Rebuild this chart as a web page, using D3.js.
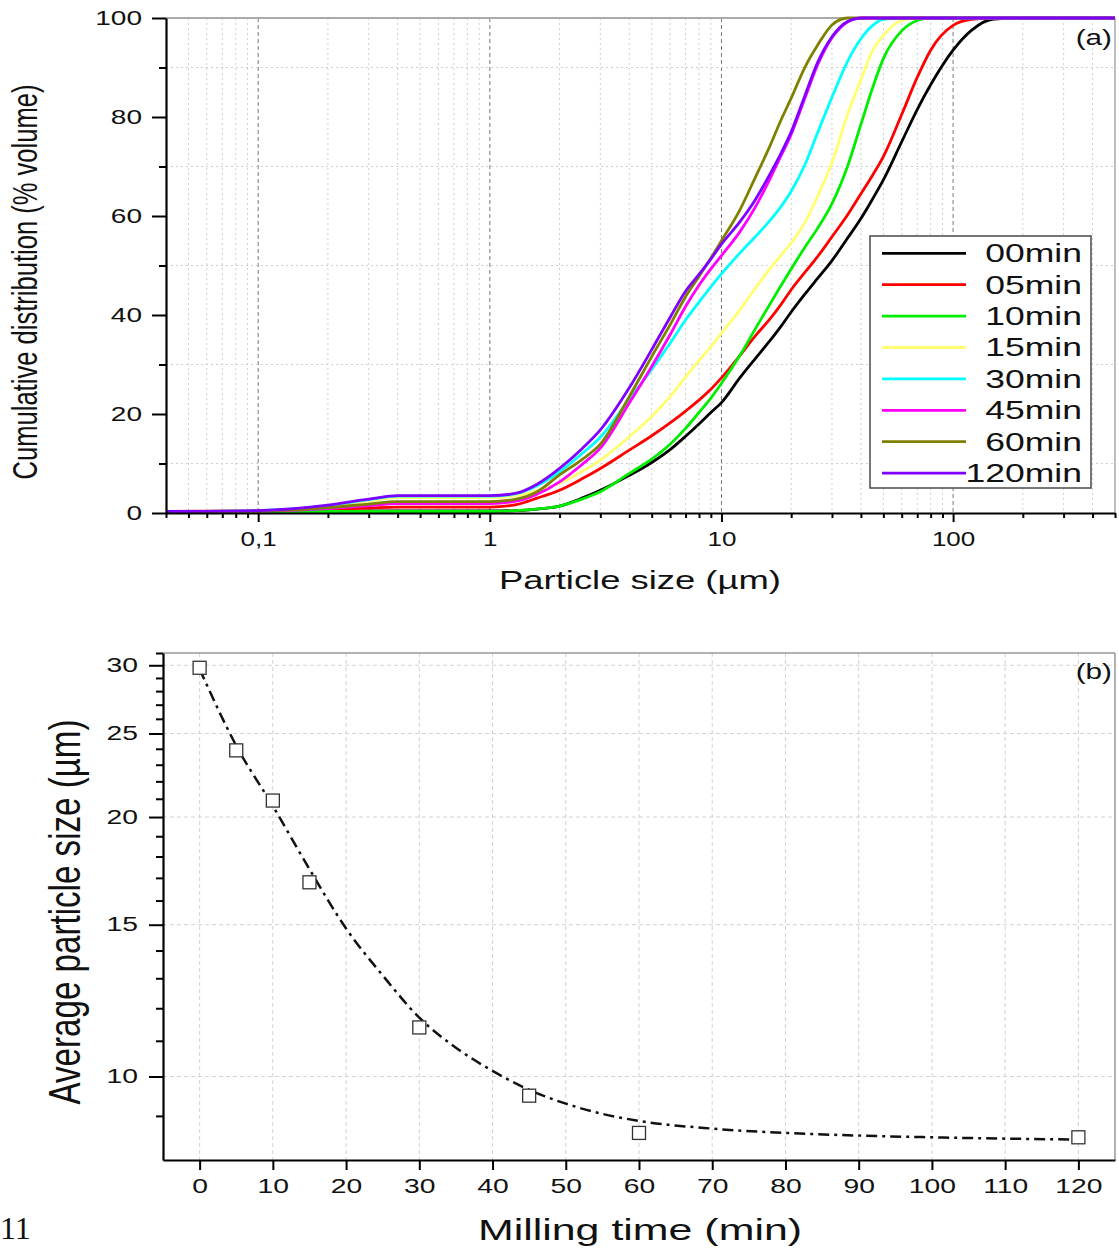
<!DOCTYPE html>
<html><head><meta charset="utf-8">
<script src="https://cdn.jsdelivr.net/npm/d3@7"></script>
<style>
body{margin:0;background:#fff}
svg{display:block}
text{font-family:"Liberation Sans",Arial,Helvetica,sans-serif;fill:#111}
</style>
</head><body>
<svg id="c" width="1119" height="1250"></svg>
<script>
// ---------- DATA: panel (a) ----------
const sizes = [0.04,0.1,0.2,0.3,0.4,1,1.3,1.6,2,2.5,3,4,5,6,7,8,9,10,12,14,16,18,20,23,26,30,35,40,45,50,60,70,80,100,120,150,200,500];
const seriesNames = ["00min","05min","10min","15min","30min","45min","60min","120min"];
const seriesColors = ["#000000","#ff0000","#00ee00","#ffff70","#00ffff","#ff00ff","#808000","#8000ff"];
const v00 = [0.2,0.3,0.35,0.4,0.4,0.4,0.5,0.8,1.4,3.0,4.6,7.6,10.2,12.8,15.5,18.0,20.3,22.3,27.3,31.2,34.5,37.6,40.6,44.3,47.4,51.0,55.5,59.5,63.5,67.3,75.0,81.5,86.5,93.5,97.5,99.8,100,100];
const v05 = [0.3,0.4,0.7,1.0,1.2,1.2,1.7,3.0,4.6,6.9,9.0,12.7,15.6,18.2,20.6,22.8,25.0,27.3,31.8,35.8,38.9,42.0,45.1,48.7,51.8,55.8,60.2,64.5,68.3,72.0,80.5,88.0,93.5,98.5,99.7,100,100,100];
const v10 = [0.2,0.3,0.3,0.3,0.3,0.3,0.5,0.8,1.4,2.8,4.3,8.0,10.9,13.9,17.1,20.3,23.2,26.2,31.8,37.2,41.8,45.8,49.3,53.8,57.5,62.5,70.0,78.5,86.0,91.8,97.4,99.5,100,100,100,100,100,100];
const v15 = [0.3,0.4,1.3,2.4,3.1,3.1,3.5,4.5,6.0,8.4,10.7,15.4,19.5,23.5,27.5,30.8,33.6,36.3,41.0,45.4,49.0,52.0,54.5,58.8,64.0,70.8,80.5,87.5,93.5,96.5,99.5,100,100,100,100,100,100,100];
const v30 = [0.3,0.5,1.5,2.7,3.4,3.4,3.9,5.5,8.3,12.0,15.3,23.0,29.0,34.3,39.0,42.6,45.7,48.3,52.5,55.8,58.8,61.8,65.0,70.5,76.8,84.0,91.2,95.8,98.5,99.7,100,100,100,100,100,100,100,100];
const v45 = [0.3,0.4,0.9,1.5,1.9,1.9,2.4,3.8,6.3,9.8,13.1,22.2,29.6,36.0,41.7,46.0,49.3,52.0,56.8,61.8,67.0,72.0,76.5,84.0,90.5,96.0,99.2,100,100,100,100,100,100,100,100,100,100,100];
const v60 = [0.3,0.4,1.1,1.8,2.3,2.3,2.8,4.3,7.7,10.8,13.9,23.5,31.6,38.0,43.7,47.8,51.5,55.0,61.2,67.8,73.6,79.2,83.8,90.2,94.5,98.6,100,100,100,100,100,100,100,100,100,100,100,100];
const v120 = [0.3,0.5,1.6,2.8,3.5,3.5,4.0,5.8,9.0,13.0,16.8,25.3,33.0,39.5,44.8,48.2,51.3,54.3,58.8,63.3,68.0,72.5,77.0,84.5,91.0,96.2,99.3,100,100,100,100,100,100,100,100,100,100,100];
const seriesValues = [v00,v05,v10,v15,v30,v45,v60,v120];
const xMajorA = [0.1,1,10,100];
const xMajorLabelsA = ["0,1","1","10","100"];
const yMajorA = [0,20,40,60,80,100];
const yMinorA = [10,30,50,70,90];

// ---------- DATA: panel (b) ----------
const millTimes = [0,5,10,15,30,45,60,120];
const avgSize = [29.8,23.9,20.9,16.8,11.4,9.5,8.6,8.5];
const fitTimes = [0,5,10,15,20,25,30,35,40,45,50,55,60,70,80,90,100,110,120];
const fitSizes = [29.7,24.2,20.6,17.4,14.85,13.1,11.7,10.8,10.15,9.65,9.3,9.05,8.88,8.7,8.6,8.54,8.5,8.47,8.45];
const xTicksB = [0,10,20,30,40,50,60,70,80,90,100,110,120];
const yMajorB = [10,15,20,25,30];
const yMinorB = [9,11,12,13,14,16,17,18,19,21,22,23,24,26,27,28,29,31];

const svg = d3.select("#c");
function stretch(sel, f){
  sel.each(function(){
    const w = this.getComputedTextLength();
    this.setAttribute("textLength", w*f);
    this.setAttribute("lengthAdjust","spacingAndGlyphs");
  });
}

// =============== PANEL (a) ===============
const A = {l:166, r:1115, t:18, b:513};
const xA = d3.scaleLog().domain([0.04,500]).range([A.l,A.r]);
const yA = d3.scaleLinear().domain([0,100]).range([A.b,A.t]);
const xMinorA = [];
[0.01,0.1,1,10,100].forEach(dec=>{ for(let k=2;k<=9;k++){const v=+(dec*k).toPrecision(6); if(v>=0.04 && v<=500) xMinorA.push(v);} });

const gA = svg.append("g");
gA.selectAll(".vgm").data(xMinorA.filter(v=>v>0.04&&v<500)).join("line")
  .attr("x1",d=>xA(d)).attr("x2",d=>xA(d)).attr("y1",A.t).attr("y2",A.b)
  .attr("stroke","#cfcfcf").attr("stroke-width",1).attr("stroke-dasharray","2,3");
gA.selectAll(".vgM").data(xMajorA).join("line")
  .attr("x1",d=>xA(d)).attr("x2",d=>xA(d)).attr("y1",A.t).attr("y2",A.b)
  .attr("stroke","#777").attr("stroke-width",1).attr("stroke-dasharray","4,3");
gA.selectAll(".hg").data(yMinorA).join("line")
  .attr("x1",A.l).attr("x2",A.r).attr("y1",d=>yA(d)).attr("y2",d=>yA(d))
  .attr("stroke","#cfcfcf").attr("stroke-width",1).attr("stroke-dasharray","2,3");

gA.append("line").attr("x1",A.l).attr("x2",A.r).attr("y1",A.t).attr("y2",A.t).attr("stroke","#aaa").attr("stroke-width",2);
gA.append("line").attr("x1",A.r).attr("x2",A.r).attr("y1",A.t).attr("y2",A.b).attr("stroke","#aaa").attr("stroke-width",1.5);

svg.append("clipPath").attr("id","clipA").append("rect").attr("x",A.l).attr("y",A.t-2).attr("width",A.r-A.l).attr("height",A.b-A.t+2);
const lineA = d3.line().x(d=>xA(d[0])).y(d=>yA(d[1])).curve(d3.curveMonotoneX);
const gCurves = gA.append("g").attr("clip-path","url(#clipA)");
seriesValues.forEach((vals,i)=>{
  gCurves.append("path").datum(sizes.map((s,j)=>[s,vals[j]]))
    .attr("d",lineA).attr("fill","none").attr("stroke",seriesColors[i]).attr("stroke-width",2.8)
    .attr("stroke-linejoin","round");
});

const axXA = gA.append("g").attr("transform",`translate(0,${A.b})`)
  .call(d3.axisBottom(xA).tickValues(xMajorA).tickSize(9).tickPadding(10).tickSizeOuter(0).tickFormat((d,i)=>xMajorLabelsA[i]));
gA.append("g").attr("transform",`translate(0,${A.b})`)
  .call(d3.axisBottom(xA).tickValues(xMinorA).tickSize(5).tickSizeOuter(0).tickFormat(""))
  .call(g=>g.select(".domain").remove());
const axYA = gA.append("g").attr("transform",`translate(${A.l},0)`)
  .call(d3.axisLeft(yA).tickValues(yMajorA).tickSize(14).tickPadding(10).tickSizeOuter(0));
gA.append("g").attr("transform",`translate(${A.l},0)`)
  .call(d3.axisLeft(yA).tickValues(yMinorA).tickSize(7).tickSizeOuter(0).tickFormat(""))
  .call(g=>g.select(".domain").remove());
[axXA,axYA].forEach(ax=>{
  ax.select(".domain").attr("stroke","#000").attr("stroke-width",2.2);
  ax.selectAll("text").attr("font-size",20).attr("fill","#111").style("font-family","Liberation Sans, Arial, sans-serif");
});
gA.selectAll(".tick line").attr("stroke","#000").attr("stroke-width",2);
stretch(axXA.selectAll("text"),1.3);
stretch(axYA.selectAll("text"),1.4);

const tA1 = gA.append("text").attr("x",640).attr("y",589).attr("text-anchor","middle").attr("font-size",26).text("Particle size (µm)");
stretch(tA1,1.4);
gA.append("text").attr("transform","translate(37,282) scale(1.4,1) rotate(-90)")
  .attr("text-anchor","middle").attr("font-size",25.5).attr("textLength",395).attr("lengthAdjust","spacingAndGlyphs")
  .text("Cumulative distribution (% volume)");
const la = gA.append("text").attr("x",1112).attr("y",45).attr("text-anchor","end").attr("font-size",22).text("(a)");
stretch(la,1.35);

const leg = gA.append("g");
leg.append("rect").attr("x",870).attr("y",236).attr("width",221).attr("height",252)
  .attr("fill","#fff").attr("stroke","#555").attr("stroke-width",1.6);
seriesNames.forEach((n,i)=>{
  const y = 253.3 + i*31.4;
  leg.append("line").attr("x1",882).attr("x2",966).attr("y1",y).attr("y2",y)
    .attr("stroke",seriesColors[i]).attr("stroke-width",2.8);
  const t = leg.append("text").attr("x",1082).attr("y",y+8.8).attr("text-anchor","end").attr("font-size",25).text(n);
  stretch(t,1.42);
});

// =============== PANEL (b) ===============
const B = {l:163, r:1115, t:653, b:1160};
const xB = d3.scaleLinear().domain([-5,125]).range([B.l,B.r]);
const yB = d3.scaleLog().domain([8,31]).range([B.b,B.t]);
const gB = svg.append("g");
gB.selectAll(".vg").data(xTicksB).join("line")
  .attr("x1",d=>xB(d)).attr("x2",d=>xB(d)).attr("y1",B.t).attr("y2",B.b)
  .attr("stroke","#d2d2d2").attr("stroke-width",1).attr("stroke-dasharray","4,3");
gB.selectAll(".hg").data(yMajorB).join("line")
  .attr("x1",B.l).attr("x2",B.r).attr("y1",d=>yB(d)).attr("y2",d=>yB(d))
  .attr("stroke","#d2d2d2").attr("stroke-width",1).attr("stroke-dasharray","4,3");
gB.append("line").attr("x1",B.l).attr("x2",B.r).attr("y1",B.t).attr("y2",B.t).attr("stroke","#999").attr("stroke-width",1.5);
gB.append("line").attr("x1",B.r).attr("x2",B.r).attr("y1",B.t).attr("y2",B.b).attr("stroke","#999").attr("stroke-width",1.5);

const lineB = d3.line().x(d=>xB(d[0])).y(d=>yB(d[1])).curve(d3.curveMonotoneX);
gB.append("path").datum(fitTimes.map((t,i)=>[t,fitSizes[i]]))
  .attr("d",lineB).attr("fill","none").attr("stroke","#111").attr("stroke-width",2.5)
  .attr("stroke-dasharray","11,5,3,5");
gB.selectAll(".pt").data(millTimes.map((t,i)=>[t,avgSize[i]])).join("rect")
  .attr("x",d=>xB(d[0])-6.5).attr("y",d=>yB(d[1])-6.5).attr("width",13).attr("height",13)
  .attr("fill","#fff").attr("stroke","#333").attr("stroke-width",1.3);

const axXB = gB.append("g").attr("transform",`translate(0,${B.b})`)
  .call(d3.axisBottom(xB).tickValues(xTicksB).tickSize(10).tickPadding(9).tickSizeOuter(0).tickFormat(d3.format("d")));
const axYB = gB.append("g").attr("transform",`translate(${B.l},0)`)
  .call(d3.axisLeft(yB).tickValues(yMajorB).tickSize(14).tickPadding(11).tickSizeOuter(0).tickFormat(d3.format("d")));
gB.append("g").attr("transform",`translate(${B.l},0)`)
  .call(d3.axisLeft(yB).tickValues(yMinorB).tickSize(7).tickSizeOuter(0).tickFormat(""))
  .call(g=>g.select(".domain").remove());
[axXB,axYB].forEach(ax=>{
  ax.select(".domain").attr("stroke","#000").attr("stroke-width",2.2);
  ax.selectAll("text").attr("font-size",19.5).attr("fill","#111").style("font-family","Liberation Sans, Arial, sans-serif");
});
gB.selectAll(".tick line").attr("stroke","#000").attr("stroke-width",2);
stretch(axXB.selectAll("text"),1.45);
stretch(axYB.selectAll("text"),1.45);

const tB1 = gB.append("text").attr("x",640).attr("y",1240).attr("text-anchor","middle").attr("font-size",30).text("Milling time (min)");
stretch(tB1,1.43);
gB.append("text").attr("transform","translate(80,912) scale(1.4,1) rotate(-90)")
  .attr("text-anchor","middle").attr("font-size",32).attr("textLength",385).attr("lengthAdjust","spacingAndGlyphs")
  .text("Average particle size (µm)");
const lb = gB.append("text").attr("x",1112).attr("y",679).attr("text-anchor","end").attr("font-size",22).text("(b)");
stretch(lb,1.35);

// page number fragment
svg.append("text").attr("x",0).attr("y",1239).attr("font-size",32)
  .style("font-family","Liberation Serif, Times New Roman, serif").text("11");
</script>
</body></html>
